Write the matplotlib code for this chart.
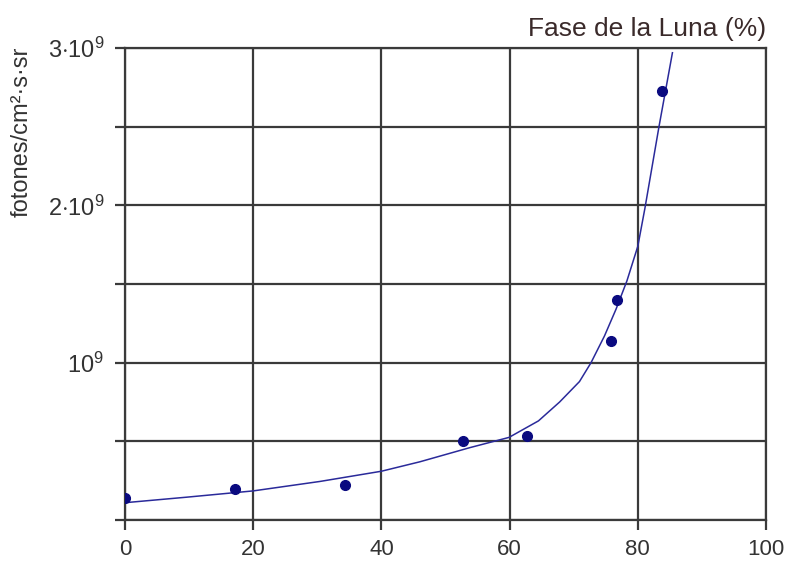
import numpy as np
import matplotlib
matplotlib.use('Agg')
import matplotlib.pyplot as plt

plt.rcParams['font.family'] = ['Liberation Sans', 'DejaVu Sans']
plt.rcParams['mathtext.fontset'] = 'custom'
plt.rcParams['mathtext.rm'] = 'Liberation Sans'
plt.rcParams['mathtext.it'] = 'Liberation Sans'

# measured points (moon phase %, photons in units of 1e9)
fase = [0, 17.1, 34.4, 52.7, 62.7, 75.8, 76.8, 83.7]
fotones = [0.14, 0.195, 0.225, 0.50, 0.535, 1.14, 1.40, 2.73]

# fitted curve
curva_x = [0, 9.6, 20, 30.4, 40, 46, 53.8, 59.9, 64.5, 67.8, 70.9, 72.7,
           74.8, 76.6, 78.3, 80, 81.1, 83.3, 85.4]
curva_y = [0.11, 0.145, 0.185, 0.245, 0.31, 0.37, 0.46, 0.525, 0.63, 0.75, 0.88, 1.0,
           1.17, 1.34, 1.52, 1.74, 1.98, 2.5, 2.97]

xticks = [0, 20, 40, 60, 80, 100]
yticks = [0, 0.5, 1.0, 1.5, 2.0, 2.5, 3.0]
ylabels = ['', '', r'$10^{9}$', '', r'$2{\cdot}10^{9}$', '', r'$3{\cdot}10^{9}$']

fig = plt.figure(figsize=(7.86, 5.69), dpi=100)
ax = fig.add_axes([0.159, 0.0861, 0.8156, 0.8295])

ax.plot(curva_x, curva_y, color='#2a2a9a', lw=1.1, zorder=3)
ax.plot(fase, fotones, 'o', color='#0a0a80', ms=7, zorder=4)

ax.set_xlim(0, 100)
ax.set_ylim(0, 3.0)
ax.set_xticks(xticks)
ax.set_xticklabels([str(t) for t in xticks])
ax.set_yticks(yticks)
ax.set_yticklabels(ylabels)
ax.grid(True, color='#3a3a3a', lw=1.6)
for s in ax.spines.values():
    s.set_color('#3a3a3a')
    s.set_linewidth(1.6)
ax.tick_params(axis='both', direction='out', length=7, width=1.6, color='#3a3a3a',
               labelcolor='#333333')
ax.tick_params(axis='x', pad=7, labelsize=16)
ax.tick_params(axis='y', pad=8, labelsize=17)

ax.text(1.0, 1.015, 'Fase de la Luna (%)', transform=ax.transAxes, ha='right', va='bottom',
        fontsize=19, color='#3a2a2a')
fig.text(0.028, 0.768, 'fotones/cm²·s·sr', rotation=90, ha='center', va='center',
         fontsize=17, color='#333333')

fig.savefig('out.png', dpi=100)
